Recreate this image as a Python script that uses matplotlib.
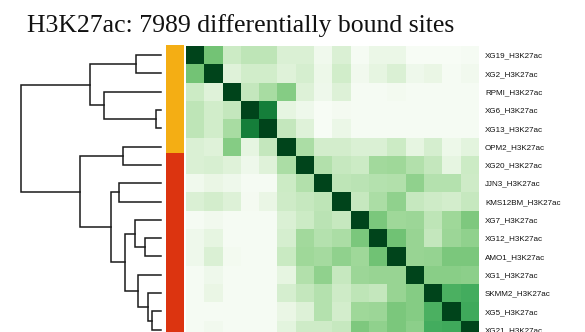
import numpy as np
import matplotlib
matplotlib.use("Agg")
import matplotlib.pyplot as plt
from matplotlib.colors import ListedColormap

# Samples in clustered order (rows and columns share the order)
samples = ["XG19_H3K27ac", "XG2_H3K27ac", "RPMI_H3K27ac", "XG6_H3K27ac",
           "XG13_H3K27ac", "OPM2_H3K27ac", "XG20_H3K27ac", "JJN3_H3K27ac",
           "KMS12BM_H3K27ac", "XG7_H3K27ac", "XG12_H3K27ac", "AMO1_H3K27ac",
           "XG1_H3K27ac", "SKMM2_H3K27ac", "XG5_H3K27ac", "XG21_H3K27ac"]

# Side-colour group of each sample
groups = [0, 0, 0, 0, 0, 0, 1, 1, 1, 1, 1, 1, 1, 1, 1, 1]
group_colors = ["#f4ae14", "#dc3410"]

# Pairwise correlation scores
scores = np.array([
    [1.00, 0.50, 0.23, 0.28, 0.28, 0.17, 0.17, 0.05, 0.17, 0.01, 0.08, 0.08, 0.00, 0.00, 0.00, 0.01],
    [0.50, 1.00, 0.15, 0.21, 0.21, 0.15, 0.19, 0.07, 0.21, 0.04, 0.12, 0.17, 0.06, 0.09, 0.01, 0.04],
    [0.23, 0.15, 1.00, 0.26, 0.35, 0.45, 0.16, 0.06, 0.16, 0.01, 0.01, 0.03, 0.01, 0.01, 0.01, 0.01],
    [0.28, 0.21, 0.26, 1.00, 0.80, 0.12, 0.06, 0.00, 0.02, 0.01, 0.01, 0.01, 0.01, 0.01, 0.01, 0.01],
    [0.28, 0.21, 0.35, 0.80, 1.00, 0.26, 0.15, 0.00, 0.08, 0.01, 0.01, 0.01, 0.01, 0.01, 0.01, 0.01],
    [0.17, 0.15, 0.45, 0.12, 0.26, 1.00, 0.34, 0.20, 0.20, 0.17, 0.17, 0.23, 0.12, 0.19, 0.07, 0.13],
    [0.17, 0.18, 0.15, 0.06, 0.15, 0.34, 1.00, 0.32, 0.25, 0.23, 0.37, 0.38, 0.32, 0.26, 0.12, 0.23],
    [0.05, 0.09, 0.06, 0.01, 0.01, 0.23, 0.32, 1.00, 0.28, 0.29, 0.31, 0.32, 0.42, 0.31, 0.31, 0.22],
    [0.17, 0.20, 0.16, 0.02, 0.09, 0.22, 0.25, 0.28, 1.00, 0.25, 0.34, 0.42, 0.25, 0.22, 0.20, 0.25],
    [0.01, 0.04, 0.01, 0.01, 0.01, 0.17, 0.23, 0.29, 0.25, 1.00, 0.48, 0.38, 0.39, 0.28, 0.38, 0.47],
    [0.06, 0.12, 0.01, 0.01, 0.01, 0.19, 0.37, 0.31, 0.34, 0.48, 1.00, 0.51, 0.40, 0.26, 0.39, 0.42],
    [0.06, 0.17, 0.03, 0.01, 0.01, 0.24, 0.38, 0.36, 0.42, 0.38, 0.51, 1.00, 0.40, 0.41, 0.48, 0.48],
    [0.01, 0.06, 0.01, 0.01, 0.01, 0.12, 0.32, 0.42, 0.25, 0.39, 0.40, 0.40, 1.00, 0.44, 0.44, 0.43],
    [0.01, 0.09, 0.01, 0.01, 0.01, 0.19, 0.26, 0.31, 0.22, 0.28, 0.26, 0.40, 0.45, 1.00, 0.60, 0.62],
    [0.01, 0.01, 0.01, 0.01, 0.01, 0.09, 0.16, 0.31, 0.20, 0.38, 0.39, 0.48, 0.45, 0.60, 1.00, 0.63],
    [0.01, 0.04, 0.01, 0.01, 0.01, 0.13, 0.22, 0.22, 0.25, 0.47, 0.42, 0.48, 0.43, 0.62, 0.63, 1.00],
])

# Row dendrogram merges: (left node, right node, height); leaves are 0..15,
# merge k creates node 16 + k
merges = [
    (0, 1, 0.244),
    (3, 4, 0.050),
    (2, 17, 0.570),
    (16, 18, 0.704),
    (5, 6, 0.380),
    (7, 8, 0.417),
    (10, 11, 0.154),
    (9, 22, 0.260),
    (14, 15, 0.090),
    (13, 24, 0.124),
    (12, 25, 0.224),
    (23, 26, 0.360),
    (21, 27, 0.494),
    (20, 28, 0.810),
    (19, 29, 1.397),
]

title = "H3K27ac: 7989 differentially bound sites"

W, H = 585, 332
DPI = 100
fig = plt.figure(figsize=(W / DPI, H / DPI), dpi=DPI)


def px_rect(x0, y0, x1, y1):
    """Axes rectangle from pixel corners (top-left origin)."""
    return [x0 / W, 1 - y1 / H, (x1 - x0) / W, (y1 - y0) / H]


n = len(samples)
row_h = 18.3
top = 46.0
hm_left, hm_right = 186.0, 479.0
bottom = top + n * row_h

# Heatmap
ax = fig.add_axes(px_rect(hm_left, top, hm_right, bottom))
ax.imshow(scores, cmap="Greens", vmin=0, vmax=1, aspect="auto",
          interpolation="nearest", extent=(-0.5, n - 0.5, n - 0.5, -0.5))
ax.set_xticks([])
ax.yaxis.tick_right()
ax.set_yticks(np.arange(n))
ax.set_yticklabels(samples, fontsize=5.8, family="Liberation Sans", color="#111111")
ax.tick_params(axis="y", length=0, pad=4.3)
for s in ax.spines.values():
    s.set_visible(False)

# Side colour bar
cax = fig.add_axes(px_rect(166, 45, 184, 332))
cmap_side = ListedColormap(group_colors)
cax.imshow(np.array(groups)[:, None], cmap=cmap_side, vmin=-0.5, vmax=1.5,
           aspect="auto", interpolation="nearest")
cax.axis("off")

# Row dendrogram
leaf_x = 160.7
max_h = max(m[2] for m in merges)
dax = fig.add_axes(px_rect(leaf_x - 139.7, top, leaf_x, bottom))
dax.set_xlim(max_h, 0)
dax.set_ylim(n - 0.5, -0.5)
dax.axis("off")

pos = {i: (float(i), 0.0) for i in range(n)}
for k, (a, b, h) in enumerate(merges):
    ya, ha = pos[a]
    yb, hb = pos[b]
    dax.plot([ha, h, h, hb], [ya, ya, yb, yb], color="#1a1a1a", lw=1.1,
             solid_joinstyle="miter", clip_on=False)
    pos[n + k] = ((ya + yb) / 2, h)

fig.text(27 / W, 1 - 32 / H, title, family="Liberation Serif", fontsize=18.5,
         ha="left", va="baseline", color="#111111")

fig.savefig("out.png", dpi=DPI)
